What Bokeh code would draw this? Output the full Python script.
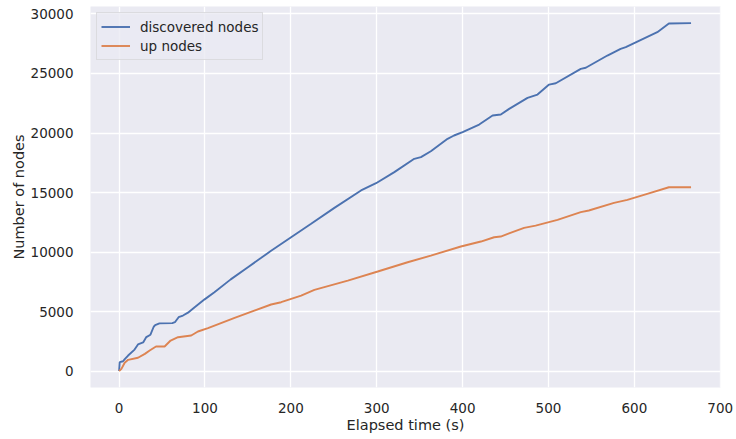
from bokeh.plotting import figure
from bokeh.models import Range1d, Legend, LegendItem, SingleIntervalTicker
from bokeh.embed import file_html
from bokeh.resources import INLINE

# discovered nodes (elapsed time s, count)
disc_t = [0, 0.7, 4.6, 6.6, 10.5, 18, 22, 28, 31.7, 36.5, 40.3, 42, 47, 62, 65,
          69.3, 74.4, 80.2, 88, 99.6, 111, 130, 150, 165.5, 177, 200.3, 223.6,
          250.7, 281.7, 299.2, 320.5, 343.7, 351.5, 363, 382.5, 390, 400, 419.3,
          434.9, 444.5, 454.2, 475.6, 487.2, 500.7, 508.5, 537.6, 543.4, 568.6,
          584, 590, 626.7, 640.2, 666]
disc_v = [0, 740, 820, 1000, 1300, 1800, 2230, 2400, 2850, 3050, 3720, 3850, 4000,
          4020, 4100, 4520, 4660, 4900, 5360, 6020, 6620, 7700, 8720, 9510, 10100,
          11240, 12370, 13710, 15170, 15780, 16710, 17830, 17970, 18470, 19510,
          19790, 20070, 20710, 21470, 21550, 22030, 22950, 23230, 24070, 24180,
          25390, 25480, 26510, 27070, 27210, 28470, 29200, 29230]

# up nodes
up_t = [0, 2.7, 6.5, 10.5, 22, 30, 35.6, 43, 53, 60, 68.6, 84, 91.8, 103.5, 134.5,
        177, 188.7, 212, 227.4, 266.3, 301.2, 336, 363, 398, 421.3, 436.7, 444.4,
        471.6, 485, 510.5, 537.6, 547, 576.3, 591.8, 615, 640.2, 666]
up_v = [0, 180, 690, 940, 1110, 1440, 1720, 2060, 2060, 2560, 2840, 2980, 3320,
        3600, 4470, 5590, 5780, 6340, 6820, 7600, 8360, 9140, 9700, 10460, 10880,
        11240, 11300, 12030, 12220, 12700, 13350, 13490, 14130, 14380, 14890,
        15440, 15440]

series_labels = ["discovered nodes", "up nodes"]
x_label = "Elapsed time (s)"
y_label = "Number of nodes"

FONT = "DejaVu Sans"
TXT = "#262626"

p = figure(frame_width=630, frame_height=381,
           min_border_left=90, min_border_right=14, min_border_top=6,
           min_border_bottom=44,
           x_range=Range1d(-33.3, 700.3), y_range=Range1d(-1386, 30630),
           output_backend="svg", toolbar_location=None)

p.background_fill_color = "#eaeaf2"
p.border_fill_color = "white"
p.outline_line_color = None

for g in (p.xgrid, p.ygrid):
    g.grid_line_color = "white"
    g.grid_line_width = 1.3

p.xaxis.ticker = SingleIntervalTicker(interval=100)
p.yaxis.ticker = SingleIntervalTicker(interval=5000)
for ax in (p.xaxis, p.yaxis):
    ax.axis_line_color = None
    ax.major_tick_line_color = None
    ax.minor_tick_line_color = None
    ax.major_tick_out = 0
    ax.major_tick_in = 0
    ax.major_label_text_font = FONT
    ax.major_label_text_font_size = "13.5px"
    ax.major_label_text_color = TXT
    ax.axis_label_text_font = FONT
    ax.axis_label_text_font_size = "14.5px"
    ax.axis_label_text_font_style = "normal"
    ax.axis_label_text_color = TXT
p.xaxis.major_label_standoff = 11
p.yaxis.major_label_standoff = 13
p.xaxis.axis_label = x_label
p.yaxis.axis_label = y_label
p.xaxis.axis_label_standoff = 1
p.yaxis.axis_label_standoff = 1

r1 = p.line(disc_t, disc_v, line_color="#4c72b0", line_width=1.9)
r2 = p.line(up_t, up_v, line_color="#dd8452", line_width=1.9)

legend = Legend(items=[LegendItem(label=series_labels[0], renderers=[r1]),
                       LegendItem(label=series_labels[1], renderers=[r2])],
                location="top_left")
legend.margin = 6
legend.padding = 4
legend.spacing = 0
legend.glyph_width = 29
legend.glyph_height = 19
legend.label_height = 19
legend.label_standoff = 10
legend.label_text_font = FONT
legend.label_text_font_size = "13.5px"
legend.label_text_color = TXT
legend.background_fill_color = "#eaeaf2"
legend.background_fill_alpha = 0.8
legend.border_line_color = "#cccccc"
legend.border_line_width = 1
p.add_layout(legend, "center")

open("out.html", "w").write(file_html(p, INLINE))
